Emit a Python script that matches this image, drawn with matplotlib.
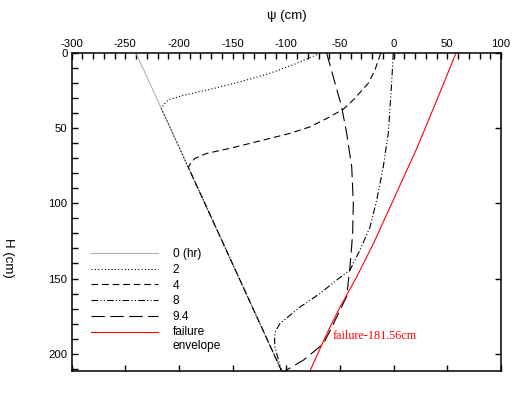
import matplotlib

matplotlib.use("Agg")
import matplotlib.pyplot as plt
from matplotlib.legend_handler import HandlerLine2D
from matplotlib.ticker import MultipleLocator

plt.rcParams["font.family"] = ["Liberation Sans", "DejaVu Sans"]
plt.rcParams["axes.unicode_minus"] = False

# pressure head psi (cm) against depth H (cm), one list pair per time
h_0 = [0, 211.6]
psi_0 = [-240, -104.4]

h_2 = [0, 6.7, 13.3, 19, 24, 28, 31, 34, 36.7, 211.6]
psi_2 = [-68.7, -90.4, -115.3, -143, -171, -196, -210, -214, -216.5, -104.4]

h_4 = [0, 11, 20, 31, 37.3, 43.4, 49, 53.3, 57.8, 63.3, 66.7, 70, 73, 76, 211.6]
psi_4 = [-12.1, -17.4, -23.7, -37.6, -47, -62.4, -78, -96.6, -121.5, -152.6,
         -174.3, -185.2, -189, -191.3, -104.4]

h_8 = [0, 20, 53.3, 75.6, 97.8, 115.6, 131, 144.4, 151, 160, 169, 180, 185,
       190, 196, 211.6]
psi_8 = [-0.4, -1.9, -5, -9.7, -15.8, -22, -31.4, -40.7, -53, -68.7, -87.3,
         -106, -110, -111, -110.6, -104.4]

h_94 = [0, 15.6, 35.6, 53.3, 75.6, 100, 120, 142, 162, 171, 183, 193.5, 204.4, 211.6]
psi_94 = [-62.4, -56.3, -48.5, -43.8, -39.1, -37.6, -38.2, -40.7, -43.8, -50,
          -58, -65.6, -84.2, -101.3]

h_fail = [0, 33.3, 65, 84.5, 97.8, 126.9, 149, 169, 186.9, 211.6]
psi_fail = [58, 39, 20.5, 8, -0.4, -19, -34.5, -50, -62.4, -78]

labels = ["0 (hr)", "2", "4", "8", "9.4", "failure\nenvelope"]
note = "failure-181.56cm"


class HandlerFirstLine(HandlerLine2D):
    # put the handle level with the first line of a two-line label
    def create_artists(self, legend, orig_handle, xdescent, ydescent,
                       width, height, fontsize, trans):
        artists = super().create_artists(legend, orig_handle, xdescent, ydescent,
                                         width, height, fontsize, trans)
        for a in artists:
            a.set_ydata([y + 0.6 * fontsize for y in a.get_ydata()])
        return artists


fig = plt.figure(figsize=(5.27, 3.98), dpi=100)
ax = fig.add_axes([71.7 / 527, 1 - 371 / 398, (501 - 71.7) / 527, (371 - 53.3) / 398])

lw = 0.8
ax.plot(psi_0, h_0, color="#b0b0b0", lw=lw, label=labels[0])
ax.plot(psi_2, h_2, color="black", lw=lw, dashes=(1, 2), label=labels[1])
ax.plot(psi_4, h_4, color="black", lw=lw, dashes=(6, 3.5), label=labels[2])
ax.plot(psi_8, h_8, color="black", lw=lw, dashes=(6, 2, 1, 2, 1, 2), label=labels[3])
ax.plot(psi_94, h_94, color="black", lw=lw, dashes=(12, 5), label=labels[4])
fail_line, = ax.plot(psi_fail, h_fail, color="red", lw=lw, label=labels[5])

ax.text(-57, 188, note, color="red", fontsize=8.7, family="Liberation Serif",
        ha="left", va="center")

ax.set_xlim(-300, 100)
ax.set_ylim(211.6, 0)

ax.xaxis.set_major_locator(MultipleLocator(50))
ax.xaxis.set_minor_locator(MultipleLocator(10))
ax.yaxis.set_major_locator(MultipleLocator(50))
ax.yaxis.set_minor_locator(MultipleLocator(10))
ax.tick_params(which="both", direction="in", labelsize=8.2, width=1,
               top=True, bottom=True, left=True, right=True,
               labeltop=True, labelbottom=False, pad=3)
ax.tick_params(which="major", length=4)
ax.tick_params(which="minor", length=4, top=True, bottom=False, left=True, right=False)
for s in ax.spines.values():
    s.set_linewidth(1.1)

ax.xaxis.set_label_position("top")
ax.set_xlabel("ψ (cm)", fontsize=9.5, labelpad=14.5)
ax.set_ylabel("H (cm)", fontsize=9.5, rotation=-90, va="center", ha="center")
ax.yaxis.set_label_coords(-0.148, 0.357)

ax.legend(loc="upper left", bbox_to_anchor=(0.045, 0.386), frameon=False,
          fontsize=8.6, handlelength=5.6, handletextpad=1.25, labelspacing=0.3,
          borderpad=0, borderaxespad=0,
          handler_map={fail_line: HandlerFirstLine()})

fig.savefig("out.png", dpi=100)
